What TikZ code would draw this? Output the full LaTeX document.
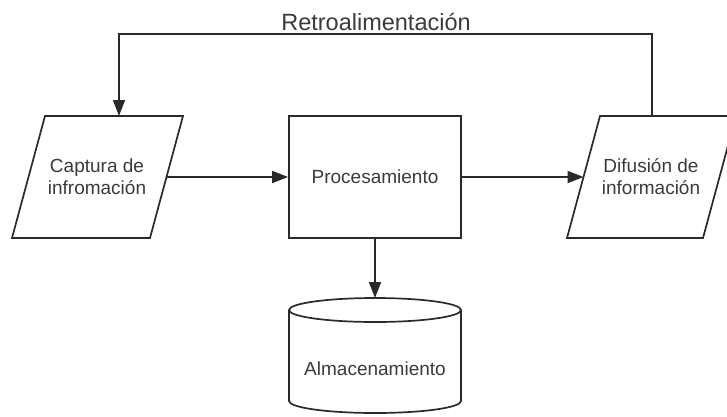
\documentclass[tikz,border=0pt]{standalone}
\usepackage{fontspec}
\setmainfont{Liberation Sans}
\usetikzlibrary{arrows.meta}
\definecolor{ln}{HTML}{2A2A2A}
\definecolor{tx}{HTML}{3A3A3A}
\begin{document}
\begin{tikzpicture}[x=1pt,y=-1pt,
  shapeline/.style={draw=ln,line width=1.7pt,line join=miter},
  conn/.style={draw=ln,line width=1.7pt,-{Triangle[length=16pt,width=12pt]}},
  lbl/.style={text=tx,font=\fontsize{19}{22}\selectfont,align=center,inner sep=0pt}]
\useasboundingbox (0,0) rectangle (727,416);
% left parallelogram
\draw[shapeline] (45,116) -- (183,116) -- (150,238) -- (12,238) -- cycle;
\node[lbl] (cap) at (97,177) {Captura de\\infromación};
\coordinate (capR) at (166.5,177);
\coordinate (capT) at (119,116);
% rectangle
\node[shapeline,minimum width=172pt,minimum height=122pt,inner sep=0pt] (proc) at (375,177) {};
\node[lbl] (proct) at (375,177) {Procesamiento};
% right parallelogram
\draw[shapeline] (600,116) -- (736,116) -- (703,238) -- (567,238) -- cycle;
\node[lbl] (dif) at (651,177) {Difusión de\\información};
\coordinate (difL) at (583.5,177);
\coordinate (difT) at (652,116);
% cylinder
\draw[shapeline] (289,310) -- (289,401) arc[start angle=180,end angle=360,x radius=86,y radius=-12] -- (461,310);
\draw[shapeline] (375,310) ellipse[x radius=86,y radius=12];
\node[lbl] (alm) at (375,369) {Almacenamiento};
\coordinate (almT) at (375,298);
% connectors
\draw[conn] (capR) -- (proc.west);
\draw[conn] (proc.east |- difL) -- (difL);
\draw[conn] (proc.south) -- (almT);
\coordinate (fbR) at (652,34);
\coordinate (fbL) at (119,34);
\draw[conn] (difT) -- (fbR) -- (fbL) -- (capT);
\node[text=tx,font=\fontsize{23.5}{26}\selectfont,anchor=base,inner sep=0pt] (retro) at (376,30) {Retroalimentación};
\end{tikzpicture}
\end{document}
